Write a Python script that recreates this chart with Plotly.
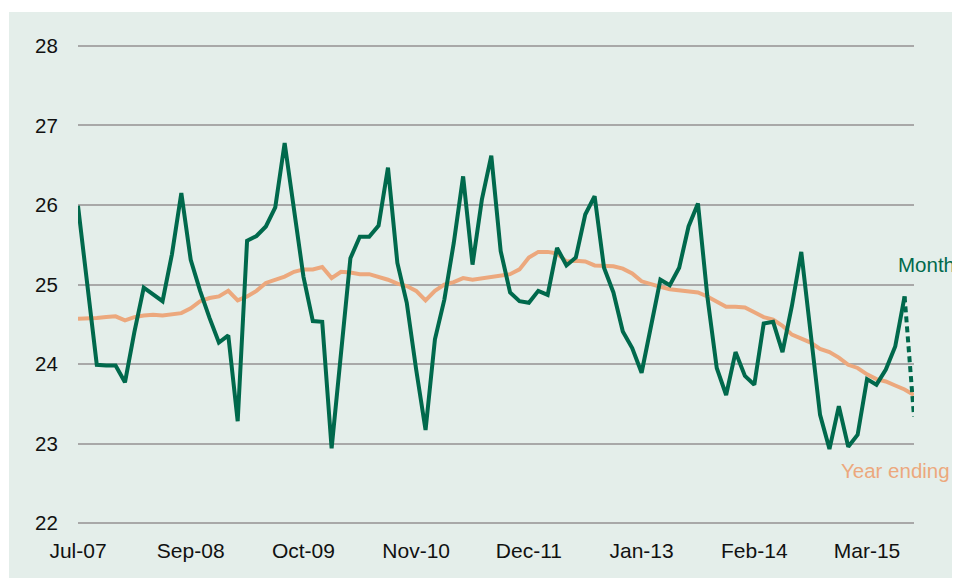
import plotly.graph_objects as go

# ---- data ----
tick_labels = ["Jul-07", "Sep-08", "Oct-09", "Nov-10", "Dec-11", "Jan-13", "Feb-14", "Mar-15"]

month_values = [
    25.99, 24.98, 23.99, 23.98, 23.98, 23.77, 24.40, 24.96, 24.88, 24.79,
    25.38, 26.15, 25.31, 24.92, 24.58, 24.27, 24.36, 23.28, 25.55, 25.61,
    25.73, 25.97, 26.78, 25.95, 25.10, 24.54, 24.53, 22.94, 24.10, 25.33,
    25.60, 25.60, 25.74, 26.47, 25.27, 24.77, 23.93, 23.17, 24.31, 24.81,
    25.52, 26.36, 25.25, 26.07, 26.62, 25.42, 24.90, 24.79, 24.77, 24.92,
    24.87, 25.46, 25.24, 25.34, 25.88, 26.11, 25.21, 24.90, 24.41, 24.20,
    23.89, 24.48, 25.06, 24.99, 25.21, 25.73, 26.02, 24.85, 23.95, 23.61,
    24.15, 23.85, 23.74, 24.51, 24.53, 24.15, 24.73, 25.41, 24.35, 23.36,
    22.93, 23.47, 22.96, 23.11, 23.81, 23.74, 23.93, 24.22, 24.85, 23.34,
]

year_ending = [
    24.57, 24.57, 24.58, 24.59, 24.60, 24.55, 24.59, 24.61, 24.62, 24.61,
    24.62, 24.64, 24.70, 24.79, 24.83, 24.85, 24.92, 24.80, 24.85, 24.92,
    25.02, 25.06, 25.10, 25.16, 25.19, 25.19, 25.22, 25.08, 25.16, 25.15,
    25.13, 25.13, 25.10, 25.06, 25.01, 24.98, 24.92, 24.80, 24.92, 25.00,
    25.03, 25.08, 25.06, 25.08, 25.10, 25.12, 25.13, 25.19, 25.34, 25.41,
    25.41, 25.39, 25.29, 25.30, 25.29, 25.24, 25.23, 25.23, 25.20, 25.14,
    25.04, 25.00, 24.97, 24.94, 24.93, 24.92, 24.90, 24.85, 24.78, 24.72,
    24.72, 24.71, 24.65, 24.59, 24.56, 24.48, 24.37, 24.32, 24.27, 24.19,
    24.15, 24.08, 23.99, 23.95, 23.87, 23.81, 23.78, 23.73, 23.68, 23.61,
]

periods = list(range(len(month_values)))
label_step = 12
tick_positions = periods[::label_step][:len(tick_labels)]

GREEN = "#00694c"
ORANGE = "#eca87d"
BG = "#e4eeea"
GRID = "#a8a8a8"
TEXT = "#111111"
FONT = "Arial, Liberation Sans, sans-serif"

fig = go.Figure()

fig.add_trace(go.Scatter(
    x=periods, y=year_ending, mode="lines",
    line=dict(color=ORANGE, width=4), name="Year ending",
))
fig.add_trace(go.Scatter(
    x=periods[:-1], y=month_values[:-1], mode="lines",
    line=dict(color=GREEN, width=4), name="Month",
))
fig.add_trace(go.Scatter(
    x=periods[-2:], y=month_values[-2:], mode="lines",
    line=dict(color=GREEN, width=4, dash="6px,4px"), name="Month (provisional)",
))

# The page body has an 8px margin, so the figure is sized to fit the window.
OFF = 8
Y_LO, Y_HI, PAD = 22, 28, 0.05
PX_PER_UNIT = (523 - 46) / (Y_HI - Y_LO)
FW, FH = 960 - OFF, 580 - OFF
L = 78 - OFF
T = 46 - OFF - PAD * PX_PER_UNIT
R = FW - (914 - OFF)
B = FH - (523 - OFF + PAD * PX_PER_UNIT)
W, H = FW - L - R, FH - T - B

# panel background (in window pixels: 9..958 x 12..578)
px0, px1, py0, py1 = 9 - OFF, 958 - OFF, 12 - OFF, 578 - OFF
fig.add_shape(
    type="rect", xref="paper", yref="paper", layer="below",
    x0=(px0 - L) / W, x1=(px1 - L) / W,
    y0=1 - (py1 - T) / H, y1=1 - (py0 - T) / H,
    fillcolor=BG, line=dict(width=0),
)

fig.add_annotation(
    x=87.1, y=25.25, xref="x", yref="y", text="Month", showarrow=False,
    xanchor="left", yanchor="middle", font=dict(family=FONT, size=20.5, color=GREEN),
)
fig.add_annotation(
    x=81.0, y=22.66, xref="x", yref="y", text="Year ending", showarrow=False,
    xanchor="left", yanchor="middle", font=dict(family=FONT, size=20.5, color=ORANGE),
)

fig.update_layout(
    width=FW, height=FH,
    margin=dict(l=L, r=R, t=T, b=B),
    paper_bgcolor="white",
    plot_bgcolor="rgba(0,0,0,0)",
    showlegend=False,
    font=dict(family=FONT, size=20, color=TEXT),
    xaxis=dict(
        range=[0, len(month_values) - 1],
        tickmode="array", tickvals=tick_positions, ticktext=tick_labels,
        showgrid=False, zeroline=False, showline=False,
        ticks="outside", ticklen=5, tickcolor="rgba(0,0,0,0)",
        tickfont=dict(family=FONT, size=21, color=TEXT),
    ),
    yaxis=dict(
        range=[Y_LO - PAD, Y_HI + PAD], dtick=1, tick0=Y_LO,
        showgrid=True, gridcolor=GRID, gridwidth=1.5,
        zeroline=False, showline=False,
        ticks="outside", ticklen=15, tickcolor="rgba(0,0,0,0)",
        tickfont=dict(family=FONT, size=20.5, color=TEXT),
    ),
)

fig.write_html("out.html")
